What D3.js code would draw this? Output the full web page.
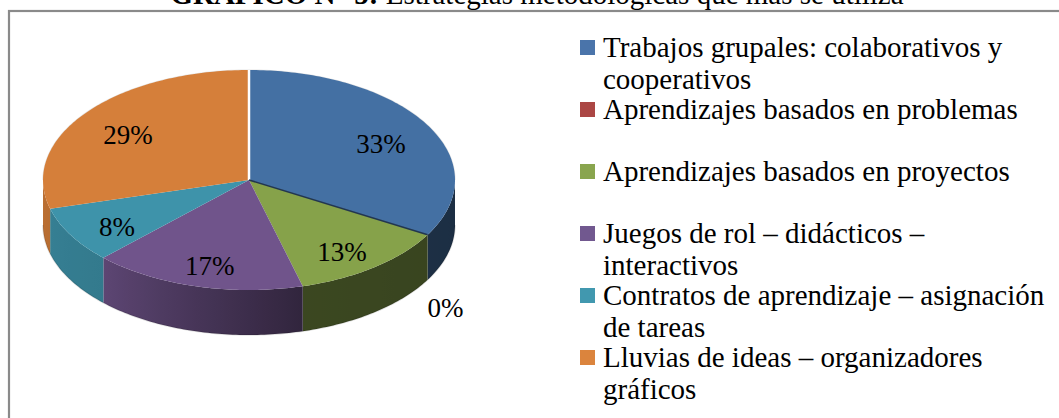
<!DOCTYPE html>
<html><head><meta charset="utf-8">
<script src="https://cdn.jsdelivr.net/npm/d3@7"></script>
<style>body{margin:0;background:#fff}</style>
</head><body><svg id="c" width="1059" height="418" font-family="'Liberation Serif', 'DejaVu Serif', serif"></svg>
<script>
const categories = ["Trabajos grupales: colaborativos y cooperativos","Aprendizajes basados en problemas","Aprendizajes basados en proyectos","Juegos de rol – didácticos – interactivos","Contratos de aprendizaje – asignación de tareas","Lluvias de ideas – organizadores gráficos"];
const legendLines = [["Trabajos grupales: colaborativos y","cooperativos"],["Aprendizajes basados en problemas"],["Aprendizajes basados en proyectos"],["Juegos de rol – didácticos –","interactivos"],["Contratos de aprendizaje – asignación","de tareas"],["Lluvias de ideas – organizadores","gráficos"]];
const values = [33.3, 0, 12.5, 16.7, 8.3, 29.2];
const legendColors = ["#4a74aa","#ab4644","#89a54e","#71588f","#4198af","#db843d"];
const faceColors = ["#4470a3","#a94341","#86a24a","#70548b","#3e93aa","#d57f3a"];
const titleBold = "GRÁFICO N° 5:";
const titleRest = " Estrategias metodológicas que más se utiliza";
const FONT = "'Liberation Serif', 'Times New Roman', serif";

const svg = d3.select("#c");
const W = 1059, H = 418;
svg.append("rect").attr("x",9).attr("y",11).attr("width",W+20).attr("height",H+20)
  .attr("fill","none").attr("stroke","#8a8a8a").attr("stroke-width",2.2);
const t = svg.append("text").attr("x",537).attr("y",4).attr("text-anchor","middle")
  .attr("font-size",29).attr("font-family",FONT);
t.append("tspan").attr("font-weight","bold").text(titleBold);
t.append("tspan").text(titleRest);

const cx = 249, cy = 180, rx = 206, ry = 110, depth = 45;
const total = d3.sum(values);
const arcs = d3.pie().sort(null).value(d=>d)(values);
const pt = (a, dy=0) => [cx + rx*Math.sin(a), cy - ry*Math.cos(a) + dy];
function arcPts(a0, a1, dy=0){
  const n = Math.max(2, Math.ceil((a1-a0)/(Math.PI/180)));
  return d3.range(n+1).map(i => pt(a0 + (a1-a0)*i/n, dy));
}
const line = d3.line();
const defs = svg.append("defs");
const shade = d3.scaleLinear().domain([90,165,225,270]).range([0.41,0.44,0.83,0.88]).clamp(true);

const g = svg.append("g");
arcs.forEach((d,i) => {
  const s = Math.max(d.startAngle, Math.PI/2), e = Math.min(d.endAngle, 3*Math.PI/2);
  if (!(e > s)) return;
  const gid = "side"+i;
  const gr = defs.append("linearGradient").attr("id",gid).attr("gradientUnits","userSpaceOnUse")
    .attr("x1",cx-rx).attr("x2",cx+rx).attr("y1",0).attr("y2",0);
  const base = d3.rgb(faceColors[i]);
  d3.range(0,37).forEach(k => {
    const deg = 270 - k*5;
    const x = cx + rx*Math.sin(deg*Math.PI/180);
    const m = shade(deg);
    gr.append("stop").attr("offset", (x-(cx-rx))/(2*rx))
      .attr("stop-color", d3.rgb(base.r*m, base.g*m, base.b*m).formatHex());
  });
  const top = arcPts(s,e,0), bot = arcPts(s,e,depth).reverse();
  g.append("path").attr("d", line(top.concat(bot))+"Z").attr("fill","url(#"+gid+")");
});
g.append("path").attr("d", line(arcPts(Math.PI/2, 3*Math.PI/2, depth)))
  .attr("fill","none").attr("stroke","rgba(0,0,0,0.12)").attr("stroke-width",1.5);
g.append("path").attr("d", line(arcPts(-Math.PI/2, Math.PI/2, 0)))
  .attr("fill","none").attr("stroke","rgba(0,0,0,0.10)").attr("stroke-width",1.2);
arcs.forEach((d,i) => {
  if (d.endAngle - d.startAngle <= 0) return;
  const p = [[cx,cy]].concat(arcPts(d.startAngle, d.endAngle, 0));
  g.append("path").attr("d", line(p)+"Z").attr("fill", faceColors[i]);
});
g.append("path").attr("d", line([[cx,cy], pt(0)])).attr("stroke","#fff").attr("stroke-width",2.5);
g.append("path").attr("d", line([[cx,cy], pt(arcs[0].endAngle)])).attr("stroke","#22364f").attr("stroke-width",1.6);

arcs.forEach((d,i) => {
  const m = (d.startAngle + d.endAngle)/2;
  let x, y;
  if (d.value === 0) {
    x = cx + rx*1.1*Math.sin(m);
    y = cy - ry*1.1*Math.cos(m) + depth + 22;
  } else {
    x = cx + rx*0.74*Math.sin(m);
    y = cy - ry*0.76*Math.cos(m) + 5;
  }
  g.append("text").attr("x",x).attr("y",y).attr("dy","0.35em").attr("text-anchor","middle")
    .attr("font-size",27).attr("font-family",FONT).text(Math.round(d.value/total*100)+"%");
});

const lg = svg.append("g");
legendLines.forEach((lines,i) => {
  const by = 57 + i*62;
  lg.append("rect").attr("x",580).attr("y",by-17).attr("width",15).attr("height",15).attr("fill",legendColors[i]);
  const tx = lg.append("text").attr("x",603).attr("y",by).attr("font-size",29).attr("font-family",FONT);
  lines.forEach((l,j) => tx.append("tspan").attr("x",603).attr("y",by + j*32).text(l));
});
</script></body></html>
